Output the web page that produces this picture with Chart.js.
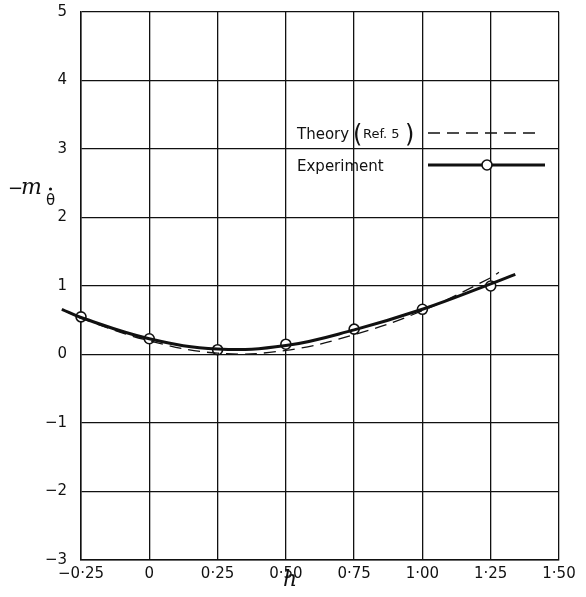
<!DOCTYPE html>
<html>
<head>
<meta charset="utf-8">
<script src="https://cdn.jsdelivr.net/npm/chart.js@4.4.1/dist/chart.umd.min.js"></script>
<style>
  html, body { margin: 0; padding: 0; background: #fff; }
  #wrap { width: 586px; height: 597px; }
</style>
</head>
<body>
<div id="wrap"><canvas id="chart" width="586" height="597"></canvas></div>
<script>
// h axis ticks
const hTicks = [-0.25, 0, 0.25, 0.5, 0.75, 1.0, 1.25, 1.5];
const hTickLabels = ['\u22120\u00b725', '0', '0\u00b725', '0\u00b750', '0\u00b775', '1\u00b700', '1\u00b725', '1\u00b750'];

// experiment points (open circles)
const expH = [-0.25, 0, 0.25, 0.5, 0.75, 1.0, 1.25];
const expM = [0.55, 0.23, 0.07, 0.15, 0.37, 0.66, 1.0];

// faired experiment curve (solid)
const expCurveH = [-0.32, -0.25, 0, 0.25, 0.5, 0.75, 1.0, 1.25, 1.34];
const expCurveM = [0.66, 0.54, 0.23, 0.08, 0.13, 0.36, 0.66, 1.03, 1.17];

// theory curve (dashed)
const theoryH = [-0.32, -0.25, 0, 0.25, 0.5, 0.75, 1.0, 1.25, 1.28];
const theoryM = [0.66, 0.53, 0.2, 0.02, 0.06, 0.29, 0.64, 1.12, 1.2];

const ink = '#111';
const font = 'DejaVu Sans, sans-serif';

const toXY = (xs, ys) => xs.map((x, i) => ({ x: x, y: ys[i] }));

// y axis title "-m" with theta-dot subscript, legend, h label
const annotations = {
    id: 'annotations',
    afterDraw(chart) {
        const ctx = chart.ctx;
        const area = chart.chartArea;
        ctx.save();
        ctx.fillStyle = ink;
        ctx.strokeStyle = ink;

        // y axis title
        ctx.textBaseline = 'alphabetic';
        ctx.textAlign = 'left';
        ctx.font = '18px DejaVu Sans, sans-serif';
        ctx.fillText('\u2212', 8, 194);
        ctx.font = 'italic 22px DejaVu Serif, serif';
        ctx.fillText('m', 21, 194);
        ctx.font = '15px DejaVu Sans, sans-serif';
        ctx.fillText('\u03b8', 46, 205);
        ctx.beginPath();
        ctx.arc(50.5, 189, 1.6, 0, Math.PI * 2);
        ctx.fill();

        // x axis title
        ctx.font = 'italic 22px DejaVu Serif, serif';
        ctx.textAlign = 'center';
        ctx.fillText('h', 290, 586);

        // legend
        const lx = area.left + 216;
        const y1 = area.top + 121;
        const y2 = area.top + 153;
        ctx.textAlign = 'left';
        ctx.font = '15px ' + font;
        ctx.fillText('Theory', lx, y1 + 6);
        ctx.font = '24px ' + font;
        ctx.fillText('(', lx + 56, y1 + 9);
        ctx.font = '13px ' + font;
        ctx.fillText('Ref. 5', lx + 66, y1 + 5);
        ctx.font = '24px ' + font;
        ctx.fillText(')', lx + 108, y1 + 9);
        ctx.font = '15px ' + font;
        ctx.fillText('Experiment', lx, y2 + 6);

        ctx.lineWidth = 1.3;
        ctx.setLineDash([12, 7]);
        ctx.beginPath();
        ctx.moveTo(lx + 131, y1);
        ctx.lineTo(lx + 244, y1);
        ctx.stroke();
        ctx.setLineDash([]);

        ctx.lineWidth = 3;
        ctx.beginPath();
        ctx.moveTo(lx + 131, y2);
        ctx.lineTo(lx + 248, y2);
        ctx.stroke();
        ctx.beginPath();
        ctx.arc(lx + 190, y2, 5, 0, Math.PI * 2);
        ctx.fillStyle = '#fff';
        ctx.fill();
        ctx.lineWidth = 1.6;
        ctx.stroke();

        ctx.restore();
    }
};

new Chart(document.getElementById('chart'), {
    type: 'scatter',
    data: {
        datasets: [
            {
                label: 'Theory (Ref. 5)',
                data: toXY(theoryH, theoryM),
                showLine: true,
                borderColor: ink,
                borderWidth: 1.3,
                borderDash: [12, 7],
                pointRadius: 0,
                tension: 0.4,
                clip: false
            },
            {
                label: 'Experiment curve',
                data: toXY(expCurveH, expCurveM),
                showLine: true,
                borderColor: ink,
                borderWidth: 3,
                pointRadius: 0,
                tension: 0.4,
                clip: false
            },
            {
                label: 'Experiment',
                data: toXY(expH, expM),
                showLine: false,
                pointRadius: 5,
                pointBackgroundColor: '#fff',
                pointBorderColor: ink,
                pointBorderWidth: 1.6,
                clip: false
            }
        ]
    },
    options: {
        responsive: false,
        animation: false,
        devicePixelRatio: 1,
        layout: { padding: { left: 0, right: 27, top: 12, bottom: 0 } },
        plugins: {
            legend: { display: false },
            tooltip: { enabled: false }
        },
        scales: {
            x: {
                type: 'linear',
                min: -0.25,
                max: 1.5,
                afterBuildTicks: (axis) => { axis.ticks = hTicks.map(v => ({ value: v })); },
                afterFit: (axis) => {
                    axis.height = 37;
                    axis.paddingLeft = 0;
                    axis.paddingRight = 0;
                },
                ticks: {
                    color: ink,
                    font: { family: font, size: 15 },
                    padding: 5,
                    maxRotation: 0,
                    autoSkip: false,
                    callback: (v, i) => hTickLabels[i]
                },
                grid: { color: ink, lineWidth: 1.3, drawTicks: false },
                border: { color: ink, width: 1.5 }
            },
            y: {
                min: -3,
                max: 5,
                afterFit: (axis) => {
                    axis.width = 81;
                    axis.paddingTop = 0;
                    axis.paddingBottom = 0;
                },
                ticks: {
                    stepSize: 1,
                    color: ink,
                    font: { family: font, size: 15 },
                    padding: 14,
                    callback: (v) => (v < 0 ? '\u2212' + Math.abs(v) : String(v))
                },
                grid: { color: ink, lineWidth: 1.3, drawTicks: false },
                border: { color: ink, width: 1.5 }
            }
        }
    },
    plugins: [annotations]
});
</script>
</body>
</html>
